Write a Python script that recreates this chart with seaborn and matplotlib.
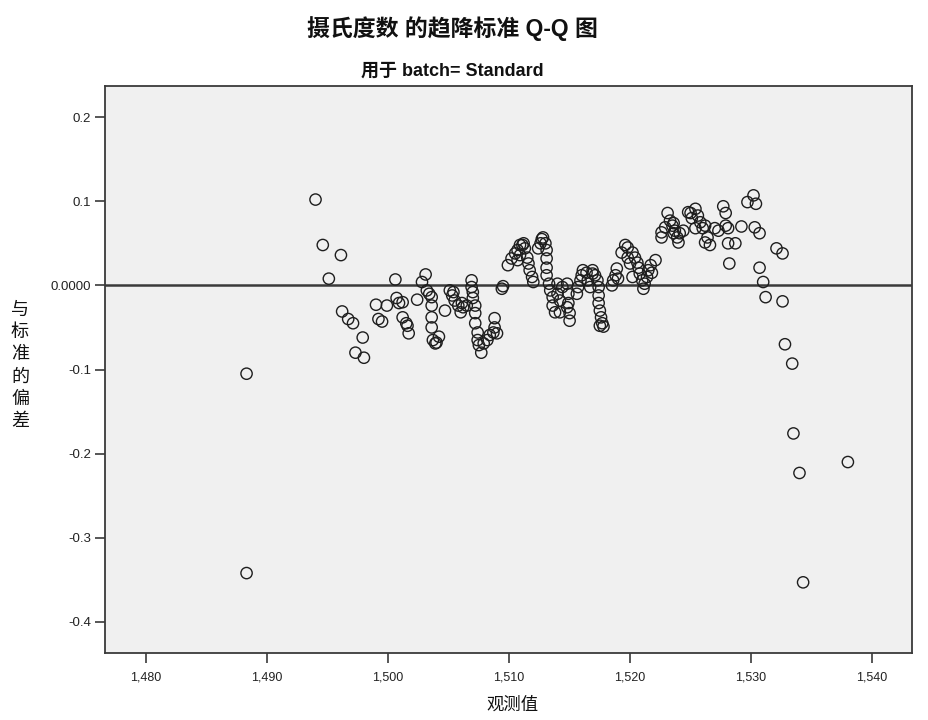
import matplotlib
matplotlib.use("Agg")
import matplotlib.pyplot as plt
import seaborn as sns
import pandas as pd

# ---- data ----
observed = [
    1488.3, 1488.3, 1494.0, 1494.6, 1495.1, 1496.1, 1496.2, 1496.7, 1497.1, 1497.9,
    1497.3, 1498.0, 1499.0, 1499.9, 1499.2, 1499.5, 1500.6, 1500.7, 1500.9, 1501.2,
    1501.2, 1501.5, 1501.6, 1501.7, 1502.4, 1503.1, 1502.8, 1503.2, 1503.4, 1503.6,
    1503.6, 1503.6, 1503.6, 1503.7, 1504.0, 1504.2, 1503.9, 1504.7, 1505.1, 1505.4,
    1505.3, 1505.5, 1505.8, 1506.0, 1506.2, 1506.1, 1506.5, 1506.9, 1506.9, 1507.0,
    1507.0, 1507.2, 1507.2, 1507.2, 1507.4, 1507.4, 1507.5, 1507.7, 1507.9, 1508.2,
    1508.4, 1508.7, 1508.8, 1508.8, 1509.0, 1509.5, 1509.4, 1509.9, 1510.2, 1510.5,
    1510.7, 1510.9, 1511.1, 1511.2, 1511.3, 1511.5, 1511.6, 1511.7, 1511.9, 1512.0,
    1510.9, 1510.7, 1512.4, 1512.6, 1512.7, 1512.8, 1513.0, 1513.1, 1513.1, 1513.1,
    1513.1, 1513.3, 1513.4, 1513.6, 1513.6, 1513.8, 1514.0, 1514.0, 1514.2, 1514.2,
    1514.4, 1514.8, 1514.9, 1514.9, 1515.0, 1515.0, 1514.8, 1515.6, 1515.7, 1515.9,
    1516.0, 1516.1, 1516.4, 1516.5, 1516.7, 1516.9, 1516.9, 1517.1, 1517.3, 1517.4,
    1517.4, 1517.4, 1517.5, 1517.6, 1517.7, 1517.8, 1517.5, 1518.5, 1518.6, 1518.8,
    1518.9, 1519.0, 1519.3, 1519.6, 1519.8, 1519.8, 1520.0, 1520.2, 1520.2, 1520.4,
    1520.6, 1520.7, 1520.8, 1521.0, 1521.1, 1521.2, 1521.4, 1521.5, 1521.7, 1521.8,
    1522.1, 1522.6, 1522.6, 1522.9, 1523.1, 1523.3, 1523.6, 1523.7, 1523.9, 1524.0,
    1523.5, 1523.6, 1524.1, 1524.4, 1524.8, 1525.0, 1525.1, 1525.4, 1525.4, 1525.6,
    1525.8, 1526.0, 1526.2, 1526.2, 1526.4, 1526.6, 1527.0, 1527.3, 1527.7, 1527.9,
    1527.9, 1528.1, 1528.1, 1528.7, 1528.2, 1529.2, 1529.7, 1530.2, 1530.4, 1530.3,
    1530.7, 1530.7, 1531.0, 1531.2, 1532.1, 1532.6, 1532.6, 1532.8, 1533.4, 1533.5,
    1534.0, 1538.0, 1534.3,
]
deviation = [
    -0.105, -0.342, 0.102, 0.048, 0.008, 0.036, -0.031, -0.040, -0.045, -0.062,
    -0.080, -0.086, -0.023, -0.024, -0.040, -0.043, 0.007, -0.015, -0.021, -0.020,
    -0.038, -0.045, -0.048, -0.057, -0.017, 0.013, 0.004, -0.006, -0.010, -0.014,
    -0.024, -0.038, -0.050, -0.065, -0.068, -0.061, -0.069, -0.030, -0.006, -0.008,
    -0.012, -0.018, -0.024, -0.032, -0.026, -0.021, -0.024, 0.006, -0.002, -0.008,
    -0.015, -0.024, -0.033, -0.045, -0.056, -0.065, -0.071, -0.080, -0.069, -0.065,
    -0.059, -0.056, -0.050, -0.039, -0.057, -0.001, -0.004, 0.024, 0.032, 0.038,
    0.042, 0.048, 0.048, 0.050, 0.044, 0.033, 0.026, 0.018, 0.010, 0.004,
    0.036, 0.030, 0.044, 0.050, 0.055, 0.057, 0.050, 0.042, 0.032, 0.021,
    0.012, 0.002, -0.006, -0.014, -0.024, -0.032, 0.002, -0.010, -0.018, -0.032,
    -0.002, 0.002, -0.010, -0.021, -0.033, -0.042, -0.026, -0.010, -0.002, 0.006,
    0.012, 0.018, 0.015, 0.006, -0.002, 0.014, 0.018, 0.012, 0.006, -0.002,
    -0.012, -0.021, -0.030, -0.038, -0.045, -0.049, -0.048, 0.000, 0.006, 0.012,
    0.020, 0.008, 0.039, 0.048, 0.045, 0.033, 0.026, 0.010, 0.039, 0.033,
    0.027, 0.021, 0.014, 0.006, -0.004, 0.002, 0.010, 0.018, 0.024, 0.015,
    0.030, 0.063, 0.057, 0.069, 0.086, 0.077, 0.074, 0.065, 0.057, 0.051,
    0.071, 0.062, 0.062, 0.065, 0.087, 0.086, 0.080, 0.091, 0.068, 0.083,
    0.075, 0.068, 0.071, 0.051, 0.057, 0.048, 0.068, 0.065, 0.094, 0.086,
    0.071, 0.068, 0.050, 0.050, 0.026, 0.070, 0.099, 0.107, 0.097, 0.069,
    0.062, 0.021, 0.004, -0.014, 0.044, 0.038, -0.019, -0.070, -0.093, -0.176,
    -0.223, -0.210, -0.353,
]
x_ticks = [1480, 1490, 1500, 1510, 1520, 1530, 1540]
x_tick_labels = ["1,480", "1,490", "1,500", "1,510", "1,520", "1,530", "1,540"]
y_ticks = [0.2, 0.1, 0.0, -0.1, -0.2, -0.3, -0.4]
y_tick_labels = ["0.2", "0.1", "0.0000", "-0.1", "-0.2", "-0.3", "-0.4"]

title_text = "摄氏度数 的趋降标准 Q-Q 图"
subtitle_text = "用于 batch= Standard"
x_label = "观测值"
y_label = "与\n标\n准\n的\n偏\n差"

# ---- style ----
sns.set_theme(style="white")
fam = ["Liberation Sans", "Noto Sans CJK SC", "DejaVu Sans"]
plt.rcParams["font.family"] = fam
plt.rcParams["axes.unicode_minus"] = False

df = pd.DataFrame({"obs": observed, "dev": deviation})

fig = plt.figure(figsize=(9.29, 7.2), dpi=100)
fig.patch.set_facecolor("white")
ax = fig.add_axes([105 / 929, 1 - 653 / 720, (912 - 105) / 929, (653 - 86) / 720])
ax.set_facecolor("#F0F0F0")

ax.axhline(0, color="#3a3a3a", lw=1.8, zorder=1)
sns.scatterplot(data=df, x="obs", y="dev", ax=ax, marker="o", s=66,
                facecolor="none", edgecolor="#1e1e1e", linewidth=1.0, zorder=3)

ax.set_xlim(1476.6, 1543.3)
ax.set_ylim(-0.437, 0.237)
ax.set_xticks(x_ticks)
ax.set_xticklabels(x_tick_labels)
ax.set_yticks(y_ticks)
ax.set_yticklabels(y_tick_labels)
ax.tick_params(axis="both", direction="out", length=7, width=1.2, color="#3a3a3a",
               labelcolor="#222222", bottom=True, left=True, pad=3)
ax.tick_params(axis="x", pad=6, labelsize=9)
ax.tick_params(axis="y", labelsize=9.5)
for sp in ax.spines.values():
    sp.set_color("#3a3a3a")
    sp.set_linewidth(1.3)
ax.set_xlabel("")
ax.set_ylabel("")

fig.text(452 / 929, 1 - 29 / 720, title_text, ha="center", va="center",
         fontsize=16.5, fontweight="bold", color="#111111", family=fam)
fig.text(452 / 929, 1 - 71 / 720, subtitle_text, ha="center", va="center",
         fontsize=13, fontweight="bold", color="#111111", family=fam)
fig.text(512 / 929, 1 - 705 / 720, x_label, ha="center", va="center",
         fontsize=12.5, color="#111111", family=fam)
fig.text(20 / 929, 1 - 366 / 720, y_label, ha="center", va="center",
         fontsize=13, color="#111111", family=fam, linespacing=1.4)

fig.savefig("out.png", dpi=100, facecolor="white")
